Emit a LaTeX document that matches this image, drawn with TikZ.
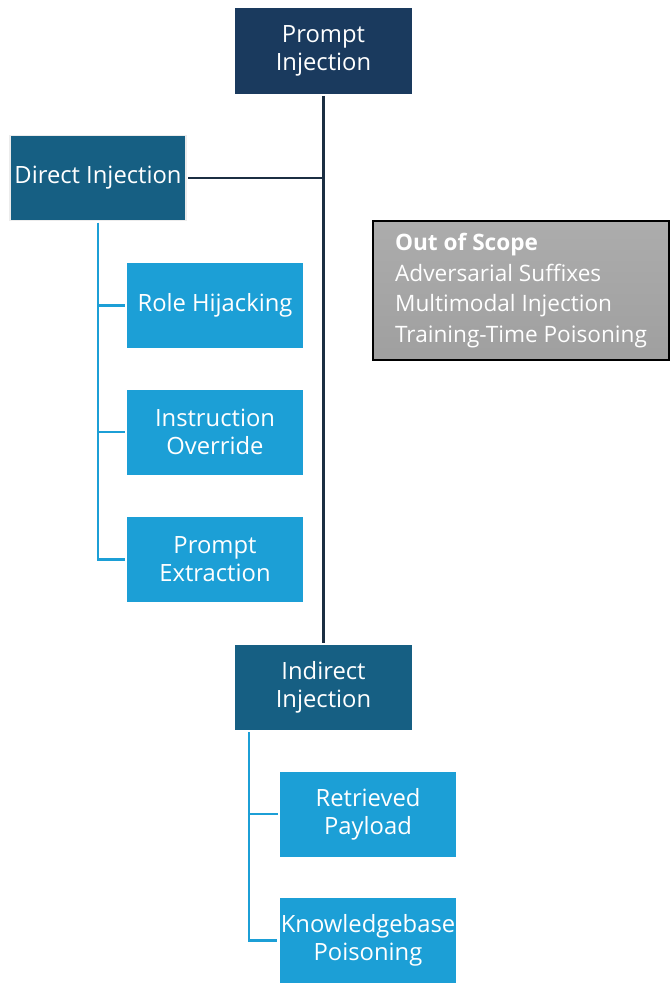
\documentclass[tikz,border=0pt]{standalone}
\usepackage{fontspec}
\setmainfont{Open Sans}
\usepackage{xcolor}
\usepackage{tikz}

\definecolor{navy}{HTML}{1A3A5E}
\definecolor{teal}{HTML}{165F83}
\definecolor{sky}{HTML}{1C9FD6}
\definecolor{trunkcol}{HTML}{1B2E42}

\begin{document}
\begin{tikzpicture}[x=0.03cm,y=-0.03cm,
		every node/.style={text=white,align=center,font=\fontsize{20.3}{24}\selectfont,
			minimum width=5.28cm,minimum height=2.55cm,inner sep=1pt,outer sep=2pt},
		root/.style={fill=navy},
		group/.style={fill=teal,draw=gray!15,line width=1.5pt},
		leaf/.style={fill=sky},
		trunk/.style={draw=trunkcol,line width=2.4pt},
		branch/.style={draw=sky,line width=2.2pt}]
	\useasboundingbox (0,0) rectangle (669,983);
	\node[root] (pi) at (323.5,51) {Prompt\\Injection};
	\node[group] (di) at (98,178) {Direct Injection};
	\node[leaf] (rh) at (215,305.5) {Role Hijacking};
	\node[leaf] (io) at (215,432) {Instruction\\Override};
	\node[leaf] (pe) at (215,559.5) {Prompt\\Extraction};
	\node[group,draw=none] (ii) at (323.5,687.5) {Indirect\\Injection};
	\node[leaf] (rp) at (368,814) {Retrieved\\Payload};
	\node[leaf] (kp) at (368,940.5) {Knowledgebase\\Poisoning};
	% out of scope box
	\node[draw=black,line width=1.2pt,top color=gray!65,bottom color=gray!100!black!75,
		minimum width=8.88cm,minimum height=4.17cm,align=left,
		font=\fontsize{19.3}{26}\selectfont,outer sep=0pt] (os) at (521,290.5)
		{\textbf{Out of Scope}\\Adversarial Suffixes\\Multimodal Injection\\Training-Time Poisoning};
	% connectors
	\draw[trunk] (pi.south) -- (ii.north);
	\draw[trunk] (di.east) -- (di.east -| pi.south);
	\draw[branch] (di.south) |- (rh.west);
	\draw[branch] (di.south) |- (io.west);
	\draw[branch] (di.south) |- (pe.west);
	\coordinate (ib) at ([xshift=0.48cm]ii.south west);
	\draw[branch] (ib) |- (rp.west);
	\draw[branch] (ib) |- (kp.west);
\end{tikzpicture}
\end{document}
